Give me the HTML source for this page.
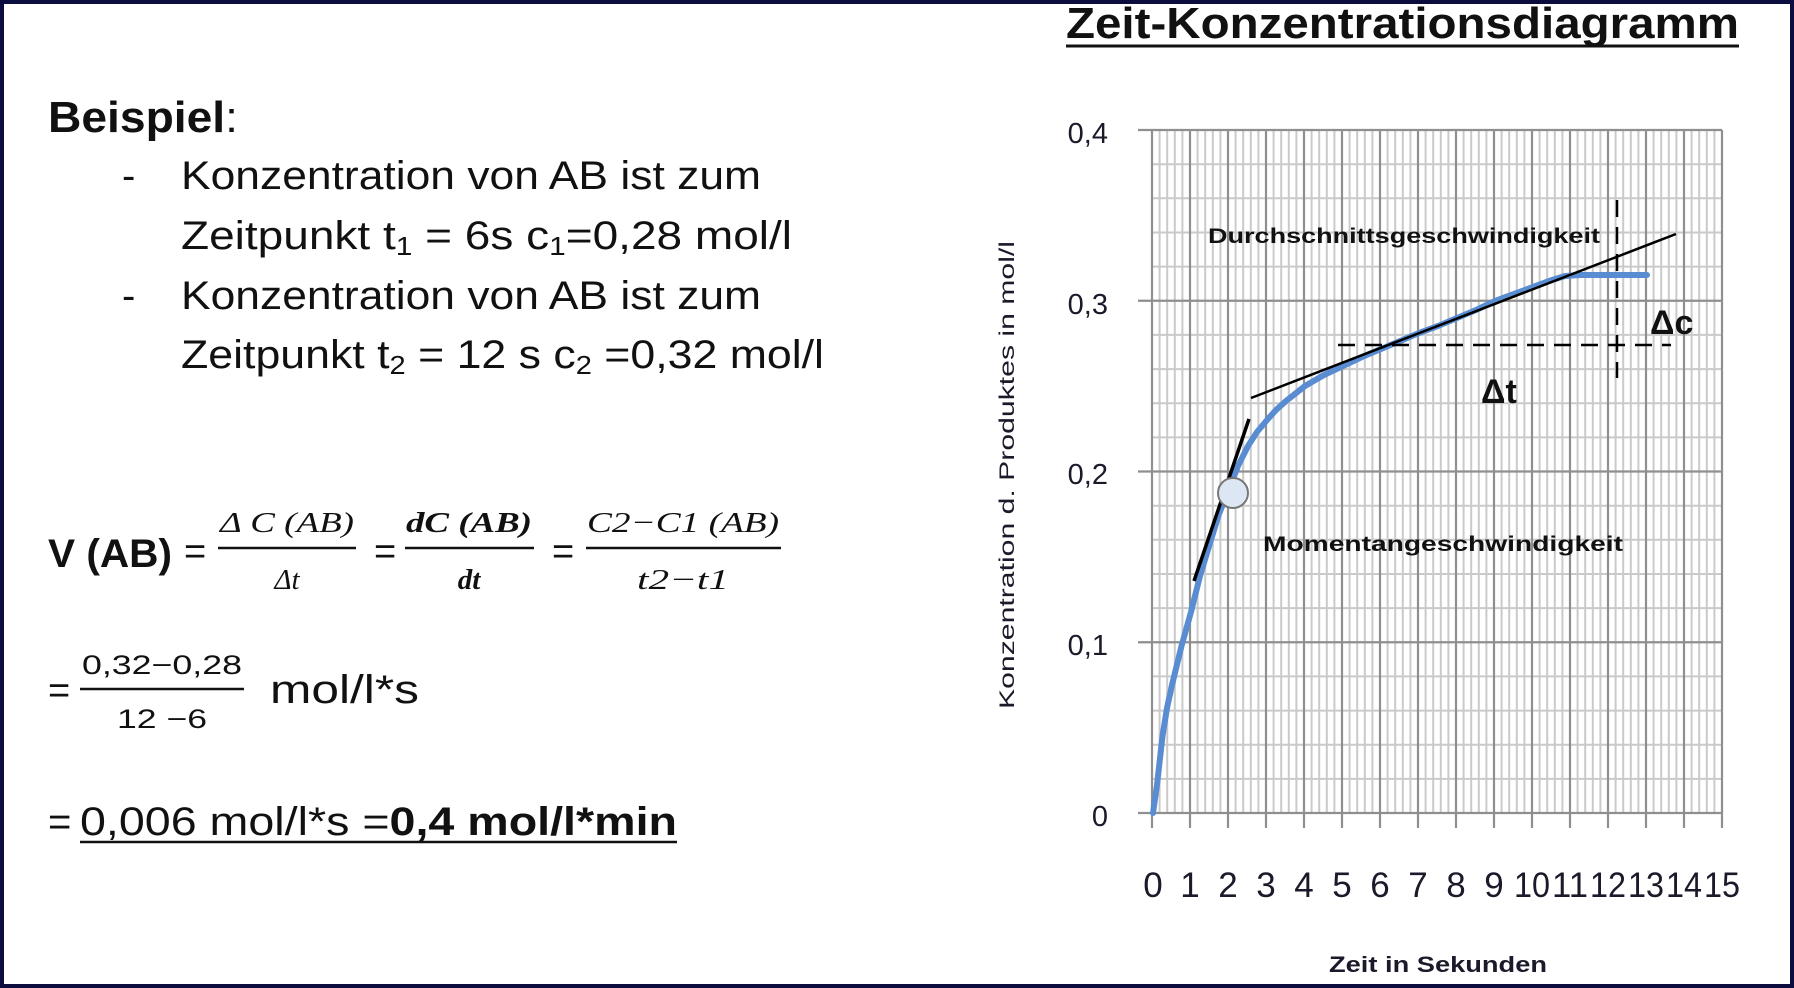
<!DOCTYPE html>
<html><head><meta charset="utf-8">
<style>
html,body{margin:0;padding:0;background:#fff;}
svg{display:block;}
text{font-family:"Liberation Sans",sans-serif;}
.m{font-family:"Liberation Serif",serif;font-style:italic;}
</style></head><body>
<svg width="1794" height="988" viewBox="0 0 1794 988" xmlns="http://www.w3.org/2000/svg">
<rect x="0" y="0" width="1794" height="988" fill="#fff"/>
<rect x="2" y="2" width="1790" height="984" fill="none" stroke="#0b0d3f" stroke-width="4"/>

<!-- Left text -->
<text x="48" y="132" font-size="44" font-weight="bold" fill="#111" textLength="190" lengthAdjust="spacingAndGlyphs">Beispiel<tspan font-weight="normal">:</tspan></text>
<g font-size="40" fill="#111">
<text x="122" y="189">-</text>
<text x="181" y="189" textLength="580" lengthAdjust="spacingAndGlyphs">Konzentration von AB ist zum</text>
<text x="181" y="249" textLength="611" lengthAdjust="spacingAndGlyphs">Zeitpunkt t<tspan font-size="26" dy="6">1</tspan><tspan dy="-6"> = 6s  c</tspan><tspan font-size="26" dy="6">1</tspan><tspan dy="-6">=0,28 mol/l</tspan></text>
<text x="122" y="309">-</text>
<text x="181" y="309" textLength="580" lengthAdjust="spacingAndGlyphs">Konzentration von AB ist zum</text>
<text x="181" y="368" textLength="643" lengthAdjust="spacingAndGlyphs">Zeitpunkt t<tspan font-size="26" dy="6">2</tspan><tspan dy="-6"> = 12 s c</tspan><tspan font-size="26" dy="6">2</tspan><tspan dy="-6"> =0,32 mol/l</tspan></text>
</g>

<!-- V(AB) formula -->
<text x="48" y="567" font-size="40" font-weight="bold" fill="#111" textLength="124" lengthAdjust="spacingAndGlyphs">V (AB)</text>
<g font-size="38" fill="#111">
<text x="184" y="564">=</text><text x="374" y="564">=</text><text x="552" y="564">=</text>
</g>
<g fill="#111">
<line x1="218" y1="548" x2="356" y2="548" stroke="#111" stroke-width="2.5"/>
<line x1="405" y1="548" x2="534" y2="548" stroke="#111" stroke-width="2.5"/>
<line x1="586" y1="548" x2="781" y2="548" stroke="#111" stroke-width="2.5"/>
<text class="m" x="287" y="532" font-size="29" text-anchor="middle" textLength="134" lengthAdjust="spacingAndGlyphs">Δ C (AB)</text>
<text class="m" x="287" y="589" font-size="29" text-anchor="middle">Δt</text>
<text class="m" x="469" y="532" font-size="29" font-weight="bold" text-anchor="middle" textLength="126" lengthAdjust="spacingAndGlyphs">dC (AB)</text>
<text class="m" x="469" y="589" font-size="29" font-weight="bold" text-anchor="middle">dt</text>
<text class="m" x="683" y="532" font-size="29" text-anchor="middle" textLength="192" lengthAdjust="spacingAndGlyphs">C2−C1 (AB)</text>
<text class="m" x="683" y="589" font-size="29" text-anchor="middle" textLength="92" lengthAdjust="spacingAndGlyphs">t2−t1</text>
</g>

<!-- line 2 -->
<text x="48" y="703" font-size="38" fill="#111">=</text>
<line x1="80" y1="689" x2="244" y2="689" stroke="#111" stroke-width="2.5"/>
<text x="162" y="674" font-size="27" fill="#111" text-anchor="middle" textLength="160" lengthAdjust="spacingAndGlyphs">0,32−0,28</text>
<text x="162" y="728" font-size="27" fill="#111" text-anchor="middle" textLength="90" lengthAdjust="spacingAndGlyphs">12 −6</text>
<text x="270" y="703" font-size="40" fill="#111" textLength="149" lengthAdjust="spacingAndGlyphs">mol/l*s</text>

<!-- line 3 -->
<text x="48" y="835" font-size="40" fill="#111">=</text>
<text x="80" y="835" font-size="40" fill="#111" textLength="597" lengthAdjust="spacingAndGlyphs">0,006 mol/l*s =<tspan font-weight="bold">0,4 mol/l*min</tspan></text>
<line x1="80" y1="842" x2="677" y2="842" stroke="#111" stroke-width="2.5"/>

<!-- Chart title -->
<text x="1066" y="38" font-size="44" font-weight="bold" fill="#111" textLength="673" lengthAdjust="spacingAndGlyphs">Zeit-Konzentrationsdiagramm</text>
<line x1="1066" y1="46" x2="1739" y2="46" stroke="#111" stroke-width="3"/>

<!-- grid -->
<g id="grid">
<g stroke="#cacaca" stroke-width="2">
<path d="
M1159.6 130V813 M1167.2 130V813 M1174.8 130V813 M1182.4 130V813
M1197.6 130V813 M1205.2 130V813 M1212.8 130V813 M1220.4 130V813
M1235.6 130V813 M1243.2 130V813 M1250.8 130V813 M1258.4 130V813
M1273.6 130V813 M1281.2 130V813 M1288.8 130V813 M1296.4 130V813
M1311.6 130V813 M1319.2 130V813 M1326.8 130V813 M1334.4 130V813
M1349.6 130V813 M1357.2 130V813 M1364.8 130V813 M1372.4 130V813
M1387.6 130V813 M1395.2 130V813 M1402.8 130V813 M1410.4 130V813
M1425.6 130V813 M1433.2 130V813 M1440.8 130V813 M1448.4 130V813
M1463.6 130V813 M1471.2 130V813 M1478.8 130V813 M1486.4 130V813
M1501.6 130V813 M1509.2 130V813 M1516.8 130V813 M1524.4 130V813
M1539.6 130V813 M1547.2 130V813 M1554.8 130V813 M1562.4 130V813
M1577.6 130V813 M1585.2 130V813 M1592.8 130V813 M1600.4 130V813
M1615.6 130V813 M1623.2 130V813 M1630.8 130V813 M1638.4 130V813
M1653.6 130V813 M1661.2 130V813 M1668.8 130V813 M1676.4 130V813
M1691.6 130V813 M1699.2 130V813 M1706.8 130V813 M1714.4 130V813"/>
<path d="
M1152 164.2H1722 M1152 198.3H1722 M1152 232.5H1722 M1152 266.6H1722
M1152 334.9H1722 M1152 369.1H1722 M1152 403.2H1722 M1152 437.4H1722
M1152 505.7H1722 M1152 539.8H1722 M1152 574H1722 M1152 608.1H1722
M1152 676.4H1722 M1152 710.6H1722 M1152 744.7H1722 M1152 778.9H1722"/>
</g>
<g stroke="#8f8f8f" stroke-width="2.2">
<path d="M1190 130V828 M1228 130V828 M1266 130V828 M1304 130V828 M1342 130V828 M1380 130V828 M1418 130V828 M1456 130V828 M1494 130V828 M1532 130V828 M1570 130V828 M1608 130V828 M1646 130V828 M1684 130V828 M1722 130V828"/>
<path d="M1138 130H1722 M1138 300.75H1722 M1138 471.5H1722 M1138 642.25H1722"/>
<path d="M1152 130V828 M1138 813H1722"/>
</g>
</g>

<!-- axes labels -->
<g font-size="29" fill="#1a1a2a" text-anchor="end">
<text x="1108" y="143">0,4</text>
<text x="1108" y="314">0,3</text>
<text x="1108" y="484">0,2</text>
<text x="1108" y="655">0,1</text>
<text x="1108" y="826">0</text>
</g>
<g font-size="35" fill="#1a1a2a" text-anchor="middle">
<text x="1153" y="897">0</text><text x="1190" y="897">1</text><text x="1228" y="897">2</text><text x="1266" y="897">3</text>
<text x="1304" y="897">4</text><text x="1342" y="897">5</text><text x="1380" y="897">6</text><text x="1418" y="897">7</text>
<text x="1456" y="897">8</text><text x="1494" y="897">9</text><text x="1532" y="897" textLength="36" lengthAdjust="spacingAndGlyphs">10</text><text x="1570" y="897" textLength="36" lengthAdjust="spacingAndGlyphs">11</text>
<text x="1608" y="897" textLength="36" lengthAdjust="spacingAndGlyphs">12</text><text x="1646" y="897" textLength="36" lengthAdjust="spacingAndGlyphs">13</text><text x="1684" y="897" textLength="36" lengthAdjust="spacingAndGlyphs">14</text><text x="1722" y="897" textLength="36" lengthAdjust="spacingAndGlyphs">15</text>
</g>
<text x="1438" y="972" font-size="22" font-weight="bold" fill="#1a1a2a" text-anchor="middle" textLength="218" lengthAdjust="spacingAndGlyphs">Zeit in Sekunden</text>
<text transform="translate(1014,475) rotate(-90)" font-size="21" fill="#1a1a2a" text-anchor="middle" textLength="468" lengthAdjust="spacingAndGlyphs">Konzentration d. Produktes in mol/l</text>

<!-- curve -->
<polyline points="1153,813 1157,785 1162.5,736 1167,708 1172,685 1181.5,646 1191,612 1200,576 1210,543 1219,514 1229,489 1238,466 1248,446 1257,432 1267,420 1276,410 1286,401 1305,386 1324,375 1343,366 1362,357 1381,349 1400,341 1419,333 1438,326 1457,318 1476,310 1495,301 1514,294 1533,287 1552,280 1565,276 1580,275 1647,275" fill="none" stroke="#5a8cd2" stroke-width="6" stroke-linecap="round" stroke-linejoin="round"/>

<!-- secant & tangent -->
<line x1="1251" y1="398" x2="1676" y2="234" stroke="#000" stroke-width="2.5"/>
<line x1="1194" y1="581" x2="1249" y2="419" stroke="#000" stroke-width="3.5"/>
<circle cx="1233" cy="493" r="15" fill="#dde7f3" stroke="#777" stroke-width="2"/>

<!-- dashed -->
<line x1="1338" y1="345" x2="1671" y2="345" stroke="#000" stroke-width="2.5" stroke-dasharray="17,10"/>
<line x1="1617" y1="200" x2="1617" y2="378" stroke="#000" stroke-width="2.5" stroke-dasharray="17,10"/>

<!-- annotations -->
<text x="1208" y="243" font-size="21" font-weight="bold" fill="#111" textLength="392" lengthAdjust="spacingAndGlyphs">Durchschnittsgeschwindigkeit</text>
<text x="1263" y="551" font-size="21" font-weight="bold" fill="#111" textLength="360" lengthAdjust="spacingAndGlyphs">Momentangeschwindigkeit</text>
<text x="1650" y="334" font-size="34" font-weight="bold" fill="#111">Δc</text>
<text x="1481" y="403" font-size="34" font-weight="bold" fill="#111">Δt</text>
</svg>
</body></html>
